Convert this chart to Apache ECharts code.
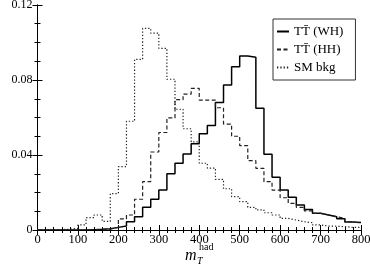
<!DOCTYPE html>
<html><head><meta charset="utf-8">
<script src="https://cdn.jsdelivr.net/npm/echarts@6/dist/echarts.min.js"></script>
<style>html,body{margin:0;padding:0;background:#fff}#c{width:370px;height:267px}</style>
</head><body><div id="c"></div>
<script>
const binStarts = [0,20,40,60,80,100,120,140,160,180,200,220,240,260,280,300,320,340,360,380,400,420,440,460,480,500,520,540,560,580,600,620,640,660,680,700,720,740,760,780];
const binEnd = 800;
const wh = [0,0,0,0,0,0,0.0002,0.0004,0.0007,0.0014,0.0021,0.0044,0.0071,0.0121,0.0164,0.0213,0.030,0.0356,0.0405,0.046,0.0514,0.0558,0.068,0.0773,0.0871,0.0928,0.0921,0.0649,0.0404,0.0281,0.0213,0.0175,0.0133,0.011,0.0089,0.008,0.0071,0.006,0.0043,0.004];
const hh = [0,0,0,0,0,0,0,0.0002,0.0005,0.0014,0.0059,0.008,0.0164,0.0258,0.0416,0.052,0.0598,0.0695,0.0725,0.0755,0.0693,0.0693,0.0652,0.0565,0.050,0.045,0.037,0.0329,0.0258,0.0213,0.0172,0.0142,0.0121,0.0102,0.0089,0.008,0.0071,0.0062,0.0044,0.0036];
const sm = [0.0002,0.0002,0.0002,0.0004,0.0009,0.0027,0.0066,0.008,0.0046,0.0194,0.0338,0.058,0.091,0.1075,0.105,0.0969,0.0804,0.0644,0.054,0.047,0.0356,0.033,0.027,0.022,0.0178,0.0151,0.0121,0.0107,0.0092,0.008,0.0062,0.0053,0.0044,0.0039,0.0027,0.0021,0.002,0.0018,0.0014,0.0014];
const seriesNames = ['TT\u0304 (WH)', 'TT\u0304 (HH)', 'SM bkg'];
const yTicks = ['0','0.04','0.08','0.12'];

function hist(vals){
  const d = binStarts.map((x,i)=>[x, vals[i]]);
  d.push([binEnd, vals[vals.length-1]]);
  return d;
}
const font = 'Liberation Serif';
const chart = echarts.init(document.getElementById('c'), null, {renderer:'canvas'});
const axisLine = {show:true, lineStyle:{color:'#000', width:1}};
const tick = {inside:true, length:5, lineStyle:{color:'#000'}};
chart.setOption({
  animation:false,
  backgroundColor:'#fff',
  grid:{left:37.5, right:9, top:5, bottom:37, containLabel:false, outerBoundsMode:'none'},
  legend:{
    left:273, top:19, orient:'vertical', itemGap:5, itemWidth:12, itemHeight:12,
    borderColor:'#333', borderWidth:1, padding:[6,12,6,3], backgroundColor:'#fff',
    textStyle:{fontFamily:font, fontSize:13, color:'#000', padding:[0,0,0,0]},
    itemStyle:{opacity:0},
    data: seriesNames
  },
  xAxis:[{
    type:'value', min:0, max:800, interval:100, position:'bottom',
    axisLine, splitLine:{show:false}, axisTick:tick,
    minorTick:{show:true, splitNumber:5, length:3, lineStyle:{color:'#000'}},
    axisLabel:{fontFamily:font, fontSize:12.5, color:'#000', margin:3}
  },{
    type:'value', min:0, max:800, interval:100, position:'top',
    axisLine, splitLine:{show:false}, axisTick:tick,
    minorTick:{show:true, splitNumber:5, length:3, lineStyle:{color:'#000'}},
    axisLabel:{show:false}
  }],
  yAxis:[{
    type:'value', min:0, max:0.12, interval:0.04, position:'left',
    axisLine, splitLine:{show:false}, axisTick:tick,
    minorTick:{show:true, splitNumber:4, length:3, lineStyle:{color:'#000'}},
    axisLabel:{fontFamily:font, fontSize:12, color:'#000', margin:5,
      formatter:(v)=>{const i=Math.round(v/0.04); return yTicks[i]!==undefined?yTicks[i]:'';}},
    name:'Fraction of events / 20 GeV', nameLocation:'middle', nameGap:28,
    nameTextStyle:{fontFamily:font, fontSize:15.5, color:'#000'}
  },{
    type:'value', min:0, max:0.12, interval:0.04, position:'right',
    axisLine, splitLine:{show:false}, axisTick:tick,
    minorTick:{show:true, splitNumber:4, length:3, lineStyle:{color:'#000'}},
    axisLabel:{show:false}
  }],
  graphic:[{
    type:'text', left:185, top:248,
    style:{text:'m', fontFamily:font, fontStyle:'italic', fontSize:16, fill:'#000'}
  },{
    type:'text', left:197, top:256,
    style:{text:'T', fontFamily:font, fontStyle:'italic', fontSize:10, fill:'#000'}
  },{
    type:'text', left:199, top:242,
    style:{text:'had', fontFamily:font, fontSize:10, fill:'#000'}
  }],
  series:[
    {name:seriesNames[0], type:'line', step:'end', data:hist(wh), symbol:'none',
     lineStyle:{color:'#000', width:1.5, type:'solid'}, itemStyle:{color:'#000'}},
    {name:seriesNames[1], type:'line', step:'end', data:hist(hh), symbol:'none',
     lineStyle:{color:'#222', width:1.2, type:[4,2.5]}, itemStyle:{color:'#222'}},
    {name:seriesNames[2], type:'line', step:'end', data:hist(sm), symbol:'none',
     lineStyle:{color:'#222', width:1.2, type:[1.3,2]}, itemStyle:{color:'#222'}}
  ]
});
</script></body></html>
